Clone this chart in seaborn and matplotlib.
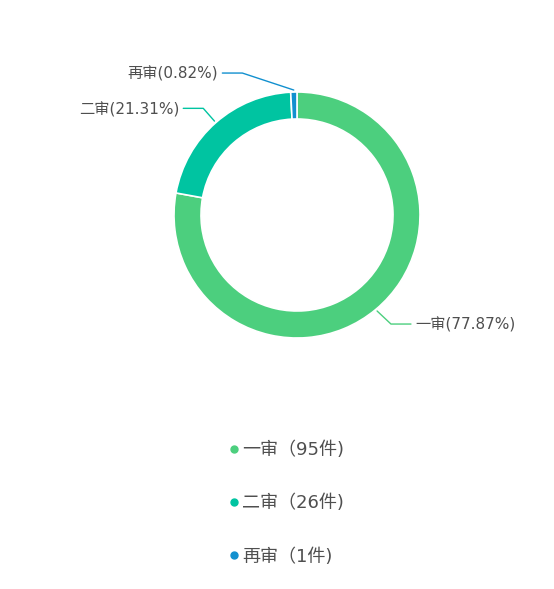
import matplotlib
matplotlib.use("Agg")
import matplotlib.pyplot as plt
from matplotlib.lines import Line2D
import seaborn as sns
import numpy as np

stages = ["一审", "二审", "再审"]
counts = [95, 26, 1]
colors = ["#4ccf7e", "#00c4a1", "#1290cf"]

sns.set_theme(style="white")
plt.rcParams["font.family"] = ["DejaVu Sans", "Noto Sans CJK SC"]

W, H = 554, 589
fig = plt.figure(figsize=(W / 100, H / 100), dpi=100)
ax = fig.add_axes([0, 0, 1, 1])

cx, cy = 297, H - 215
radius, ring = 123, 27

total = sum(counts)
pcts = [c / total * 100 for c in counts]

wedges, _ = ax.pie(counts, colors=colors, startangle=90, counterclock=False,
                   center=(cx, cy), radius=radius, frame=True,
                   wedgeprops=dict(width=ring, edgecolor="white", linewidth=1.2))
ax.set_xlim(0, W)
ax.set_ylim(0, H)
ax.set_aspect("equal")
ax.axis("off")

# leader lines + labels
elbow_shift = [3, 0, -51]
for w, name, p, col, sh in zip(wedges, stages, pcts, colors, elbow_shift):
    th = np.deg2rad((w.theta1 + w.theta2) / 2)
    dx, dy = np.cos(th), np.sin(th)
    p0 = (cx + (radius + 2) * dx, cy + (radius + 2) * dy)
    p1 = (cx + (radius + 19) * dx + sh, cy + (radius + 19) * dy)
    side = 1 if dx > 0 else -1
    p2 = (p1[0] + side * 20, p1[1])
    ax.plot([p0[0], p1[0], p2[0]], [p0[1], p1[1], p2[1]], color=col, lw=1)
    ax.text(p2[0] + side * 4, p2[1] - 1, f"{name}({p:.2f}%)", fontsize=11,
            color="#4f4f4f", ha="left" if side > 0 else "right", va="center")

handles = [Line2D([], [], marker="o", linestyle="", markersize=5,
                  markerfacecolor=c, markeredgecolor=c) for c in colors]
labels = [f"{s}（{n}件)" for s, n in zip(stages, counts)]
leg = ax.legend(handles, labels, loc="upper left", bbox_to_anchor=(209 / W, 1 - 425 / H),
                frameon=False, fontsize=13, labelspacing=1.95, handletextpad=-0.05,
                handlelength=1.0, labelcolor="#4f4f4f")

fig.savefig("out.png", dpi=100)
